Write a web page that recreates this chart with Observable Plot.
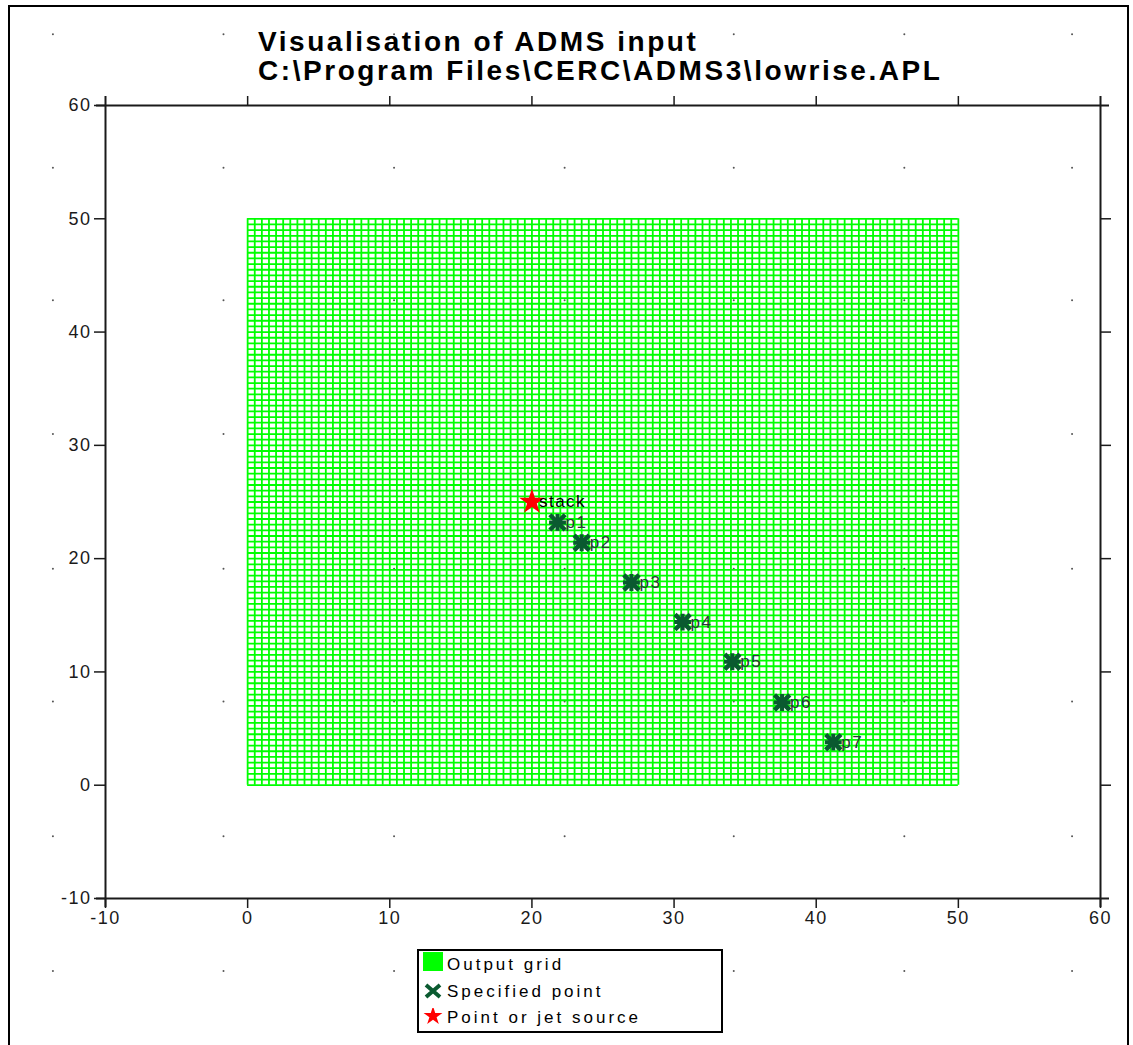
<!DOCTYPE html>
<html><head><meta charset="utf-8">
<script src="https://cdn.jsdelivr.net/npm/d3@7"></script>
<script src="https://cdn.jsdelivr.net/npm/@observablehq/plot@0.6"></script>
<style>
body{margin:0;background:#fff;}
#page{position:relative;width:1133px;height:1045px;overflow:hidden;background:#fff;font-family:"Liberation Sans",Arial,sans-serif;color:#000;}
#chart{position:absolute;left:0;top:0;}
#frame{position:absolute;left:8px;top:5px;width:1121px;height:1060px;border:2px solid #000;box-sizing:border-box;pointer-events:none;}
#title{position:absolute;left:258px;top:27px;font-weight:bold;font-size:28px;line-height:29px;white-space:nowrap;}
#legendBox{position:absolute;left:417px;top:949px;width:306px;height:84px;border:2px solid #000;box-sizing:border-box;background:#fff;}
.lgtext{position:absolute;left:447px;font-size:17px;line-height:20px;letter-spacing:3px;white-space:nowrap;}
.lgsym{position:absolute;left:423px;}
</style></head>
<body>
<div id="page">
  <div id="chart"></div>
  <div id="title"></div>
  <div id="legend"></div>
  <div id="frame"></div>
</div>
<script>
// ---- data ----
const titleLines = ["Visualisation of ADMS input", "C:\\Program Files\\CERC\\ADMS3\\lowrise.APL"];
const xTicks = [-10, 0, 10, 20, 30, 40, 50, 60];
const yTicks = [-10, 0, 10, 20, 30, 40, 50, 60];
const xTopTicks = [0, 10, 20, 30, 40, 50];
const yRightTicks = [0, 10, 20, 30, 40, 50];
const gridXStart = 0, gridXEnd = 50, gridYStart = 0, gridYEnd = 50, gridStep = 0.5;
const sourceNames = ["stack"];
const sourceX = [20];
const sourceY = [25];
const pointNames = ["p1", "p2", "p3", "p4", "p5", "p6", "p7"];
const pointX = [21.8, 23.5, 27.0, 30.6, 34.1, 37.6, 41.2];
const pointY = [23.2, 21.4, 17.9, 14.4, 10.9, 7.3, 3.8];
const bgDotX = [-13.7, -1.7, 10.3, 22.3, 34.2, 46.2, 58.0];
const bgDotY = [66.3, 54.5, 42.8, 31.0, 19.1, 7.4, -4.5, -16.4];
const legendLabels = ["Output grid", "Specified point", "Point or jet source"];

// ---- derived tables ----
const gridXs = d3.range(gridXStart, gridXEnd + gridStep / 2, gridStep);
const gridYs = d3.range(gridYStart, gridYEnd + gridStep / 2, gridStep);
const sources = sourceNames.map((n, i) => ({name: n, x: sourceX[i], y: sourceY[i]}));
const points = pointNames.map((n, i) => ({name: n, x: pointX[i], y: pointY[i]}));
const bgDots = bgDotX.flatMap(x => bgDotY.map(y => ({x, y})));

const ptColor = "#0a5a30";
const axisColor = "#1a1a1a";

const chart = Plot.plot({
  width: 1133,
  height: 1045,
  marginLeft: 105,
  marginRight: 33,
  marginTop: 105,
  marginBottom: 147,
  x: {domain: [-10, 60]},
  y: {domain: [-10, 60]},
  style: {background: "transparent", fontFamily: "'Liberation Sans', Arial, sans-serif", letterSpacing: "1.5px", color: "#000"},
  marks: [
    Plot.dot(bgDots, {x: "x", y: "y", r: 1, fill: "#555"}),
    Plot.ruleX(gridXs, {x: d => d, y1: gridYStart, y2: gridYEnd, stroke: "#00ff00", strokeWidth: 1.8}),
    Plot.ruleY(gridYs, {y: d => d, x1: gridXStart, x2: gridXEnd, stroke: "#00ff00", strokeWidth: 1.8}),
    Plot.ruleX([-10, 60], {stroke: axisColor, strokeWidth: 2, insetTop: -9, insetBottom: -9}),
    Plot.ruleY([-10, 60], {stroke: axisColor, strokeWidth: 2, insetLeft: -9, insetRight: -9}),
    Plot.axisX({anchor: "bottom", ticks: xTicks, tickSize: 10, tickPadding: 3, fontSize: 18, tickFormat: d => String(d), color: axisColor, strokeWidth: 1.5, label: null}),
    Plot.axisX({anchor: "top", ticks: xTopTicks, tickSize: 10, tickFormat: () => "", color: axisColor, strokeWidth: 1.5, label: null}),
    Plot.axisY({anchor: "left", ticks: yTicks, tickSize: 11, tickPadding: 3, fontSize: 18, tickFormat: d => String(d), color: axisColor, strokeWidth: 1.5, label: null}),
    Plot.axisY({anchor: "right", ticks: yRightTicks, tickSize: 10, tickFormat: () => "", color: axisColor, strokeWidth: 1.5, label: null}),
    Plot.dot(points, {x: "x", y: "y", symbol: "times", r: 7, stroke: ptColor, strokeWidth: 4.5}),
    Plot.dot(points, {x: "x", y: "y", symbol: "plus", r: 5.5, stroke: ptColor, strokeWidth: 4}),
    Plot.text(points, {x: "x", y: "y", text: "name", textAnchor: "start", dx: 8, fontSize: 17, fill: "#2a3838"}),
    Plot.dot(sources, {x: "x", y: "y", symbol: "star", r: 8, fill: "#ff0000", stroke: null}),
    Plot.text(sources, {x: "x", y: "y", text: "name", textAnchor: "start", dx: 7, fontSize: 17, fill: "#000"})
  ]
});
document.getElementById("chart").appendChild(chart);

// ---- title (letter spacing fitted to the reference widths) ----
const titleTargets = [439, 682];
const cv = document.createElement("canvas").getContext("2d");
cv.font = "bold 28px 'Liberation Sans', Arial, sans-serif";
const titleEl = document.getElementById("title");
titleLines.forEach((t, i) => {
  const w = cv.measureText(t).width;
  const ls = Math.max(0, (titleTargets[i] - w) / (t.length - 1));
  const div = document.createElement("div");
  div.textContent = t;
  div.style.letterSpacing = ls.toFixed(2) + "px";
  titleEl.appendChild(div);
});

// ---- legend ----
const lg = document.getElementById("legend");
lg.innerHTML = `
  <div id="legendBox"></div>
  <div class="lgsym" style="top:952px;width:20px;height:19px;background:#00ff00;"></div>
  <svg class="lgsym" style="top:983px" width="20" height="16" viewBox="0 0 20 16">
    <path d="M3,2 L17,14 M17,2 L3,14" stroke="${ptColor}" stroke-width="4" fill="none"/>
  </svg>
  <svg class="lgsym" style="top:1008px" width="20" height="16" viewBox="-10 -8 20 16">
    <path d="${d3.symbol(d3.symbolStar, 110)()}" fill="#ff0000"/>
  </svg>`;
const tops = [955, 982, 1008];
legendLabels.forEach((t, i) => {
  const d = document.createElement("div");
  d.className = "lgtext";
  d.style.top = tops[i] + "px";
  d.textContent = t;
  lg.appendChild(d);
});
</script>
</body></html>
